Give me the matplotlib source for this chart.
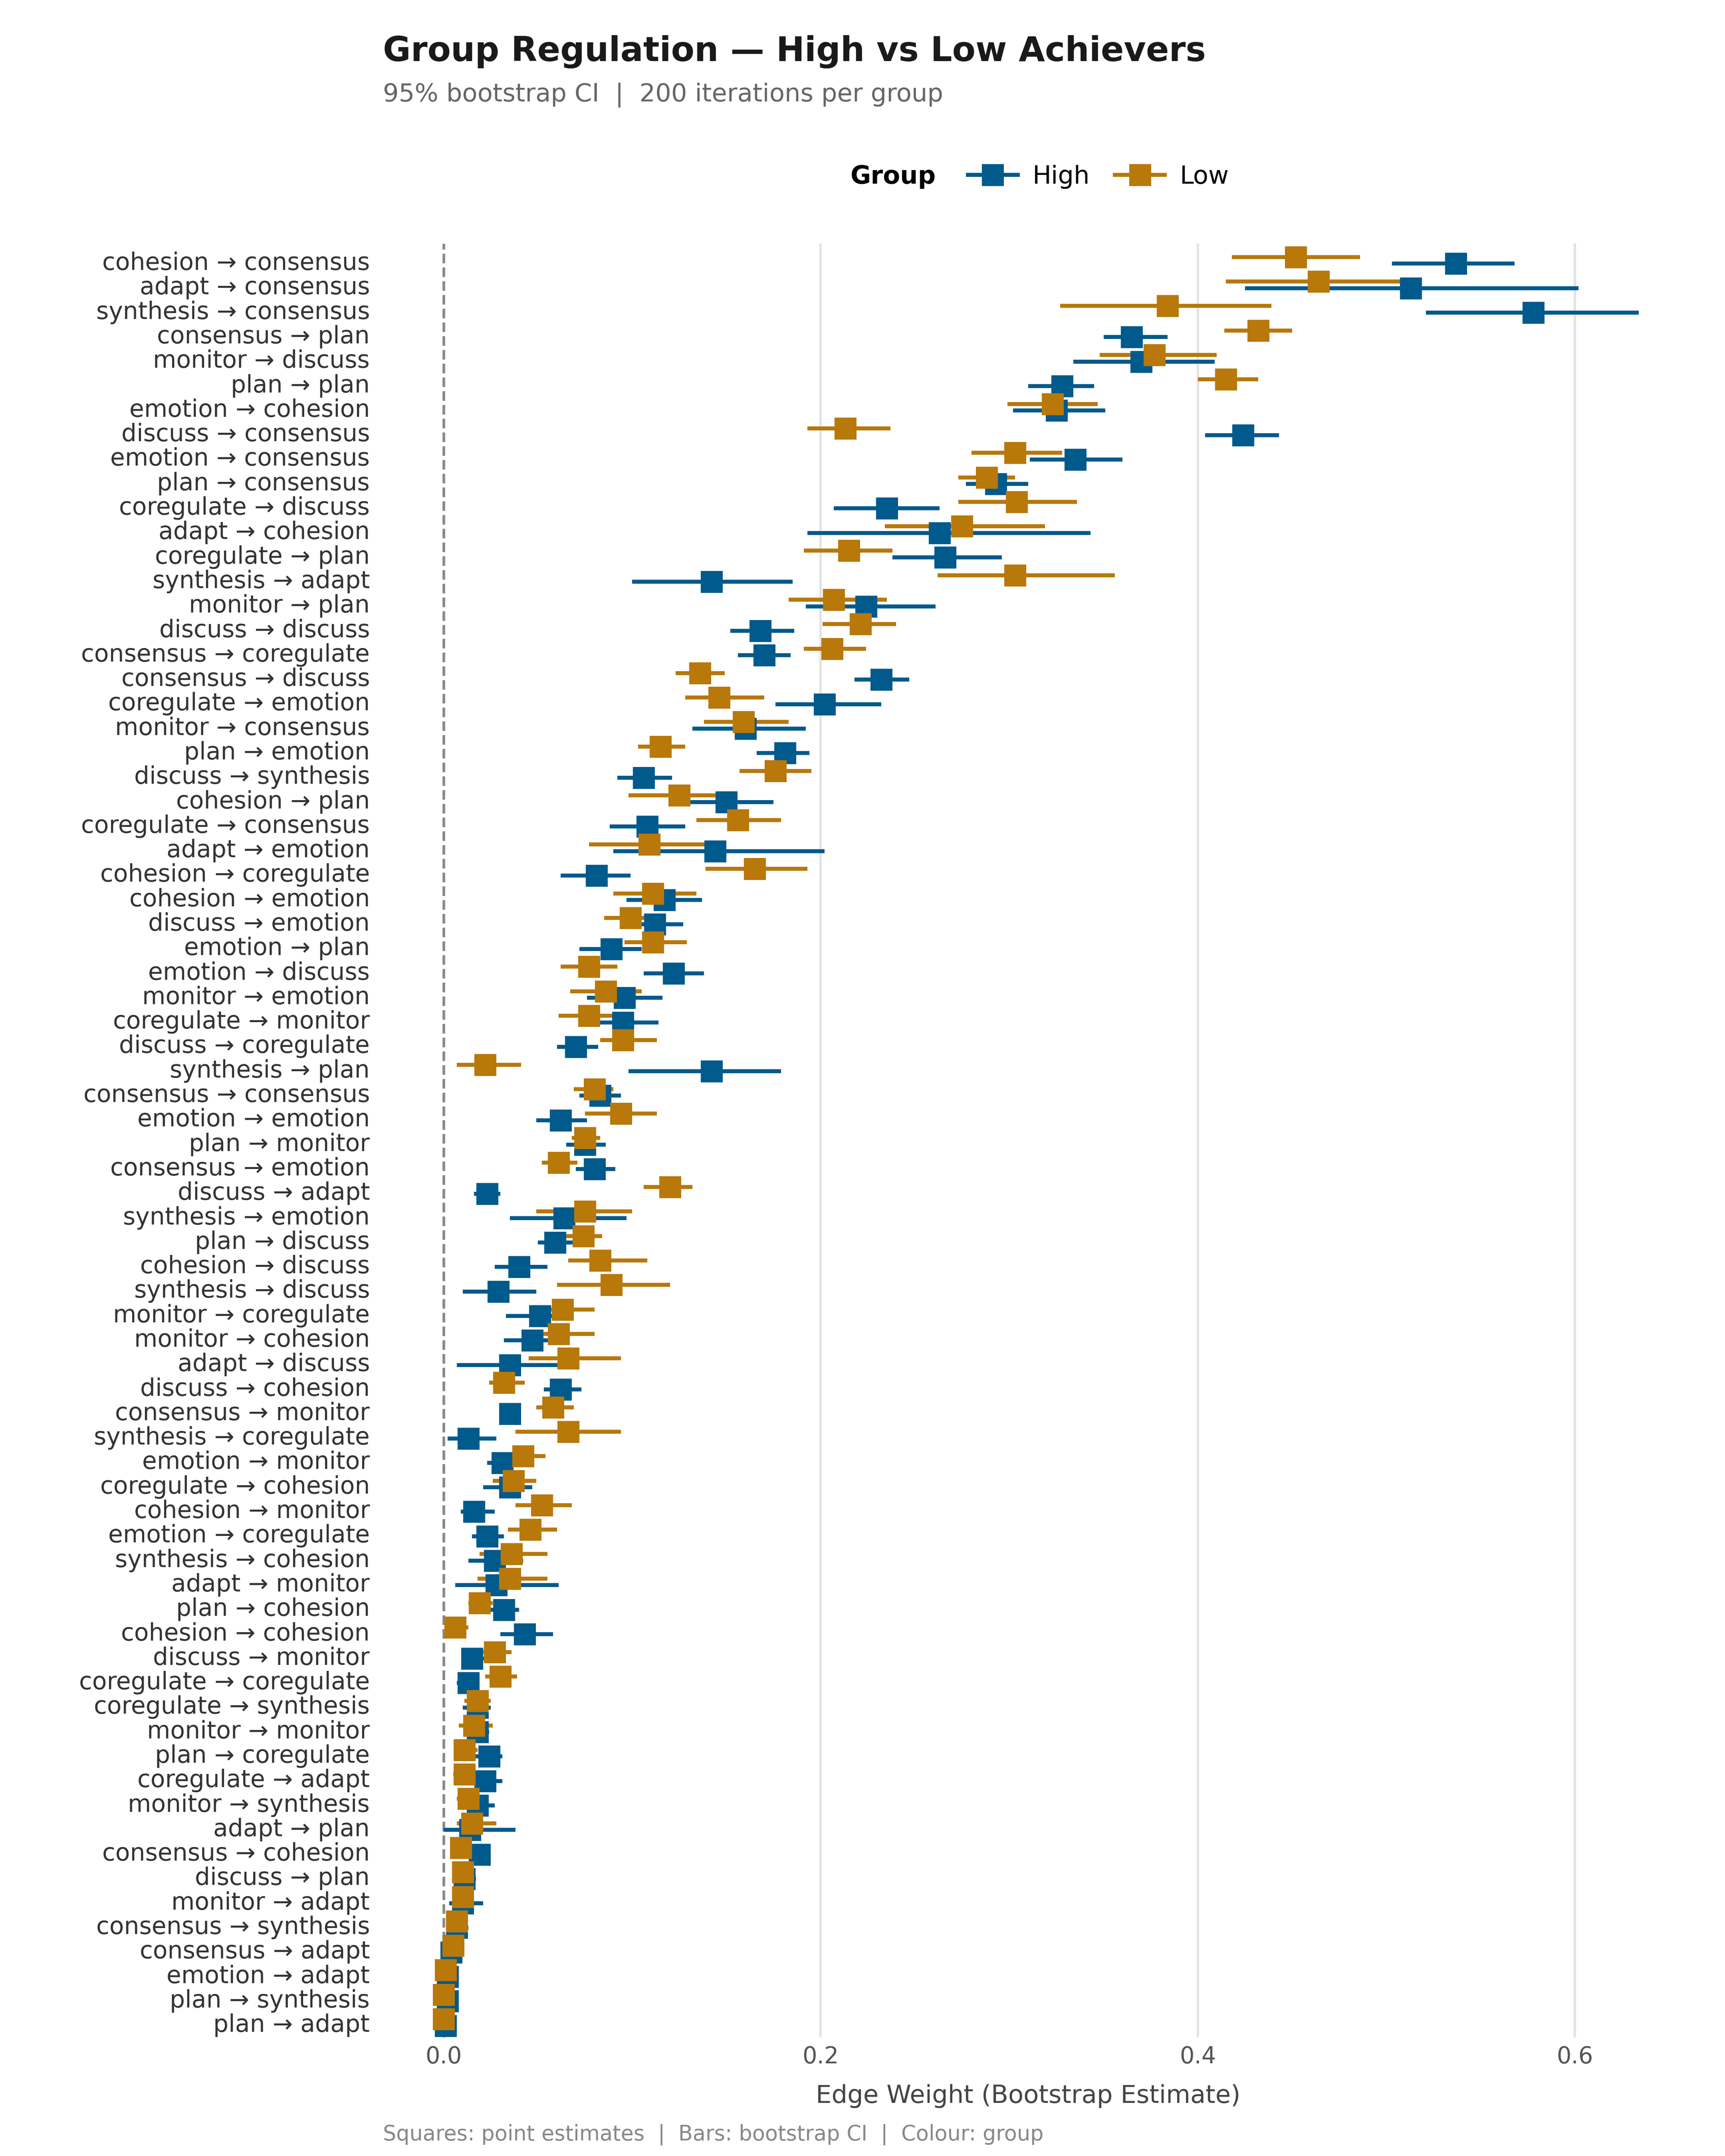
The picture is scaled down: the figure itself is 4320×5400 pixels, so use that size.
import matplotlib.pyplot as plt
from matplotlib.lines import Line2D

edges = [
    "cohesion → consensus", "adapt → consensus", "synthesis → consensus", "consensus → plan",
    "monitor → discuss", "plan → plan", "emotion → cohesion", "discuss → consensus",
    "emotion → consensus", "plan → consensus", "coregulate → discuss", "adapt → cohesion",
    "coregulate → plan", "synthesis → adapt", "monitor → plan", "discuss → discuss",
    "consensus → coregulate", "consensus → discuss", "coregulate → emotion", "monitor → consensus",
    "plan → emotion", "discuss → synthesis", "cohesion → plan", "coregulate → consensus",
    "adapt → emotion", "cohesion → coregulate", "cohesion → emotion", "discuss → emotion",
    "emotion → plan", "emotion → discuss", "monitor → emotion", "coregulate → monitor",
    "discuss → coregulate", "synthesis → plan", "consensus → consensus", "emotion → emotion",
    "plan → monitor", "consensus → emotion", "discuss → adapt", "synthesis → emotion",
    "plan → discuss", "cohesion → discuss", "synthesis → discuss", "monitor → coregulate",
    "monitor → cohesion", "adapt → discuss", "discuss → cohesion", "consensus → monitor",
    "synthesis → coregulate", "emotion → monitor", "coregulate → cohesion", "cohesion → monitor",
    "emotion → coregulate", "synthesis → cohesion", "adapt → monitor", "plan → cohesion",
    "cohesion → cohesion", "discuss → monitor", "coregulate → coregulate", "coregulate → synthesis",
    "monitor → monitor", "plan → coregulate", "coregulate → adapt", "monitor → synthesis",
    "adapt → plan", "consensus → cohesion", "discuss → plan", "monitor → adapt",
    "consensus → synthesis", "consensus → adapt", "emotion → adapt", "plan → synthesis",
    "plan → adapt",
]

high_est = [0.537, 0.513, 0.578, 0.365, 0.370, 0.328, 0.325, 0.424, 0.335, 0.293,
            0.235, 0.263, 0.266, 0.142, 0.224, 0.168, 0.170, 0.232, 0.202, 0.160,
            0.181, 0.106, 0.150, 0.108, 0.144, 0.081, 0.117, 0.112, 0.089, 0.122,
            0.096, 0.095, 0.070, 0.142, 0.083, 0.062, 0.075, 0.080, 0.023, 0.064,
            0.059, 0.040, 0.029, 0.051, 0.047, 0.035, 0.062, 0.035, 0.013, 0.031,
            0.035, 0.016, 0.023, 0.027, 0.028, 0.032, 0.043, 0.015, 0.013, 0.018,
            0.018, 0.024, 0.022, 0.018, 0.014, 0.019, 0.011, 0.010, 0.007, 0.004,
            0.002, 0.002, 0.001]
high_lo = [0.503, 0.425, 0.521, 0.350, 0.334, 0.310, 0.302, 0.404, 0.311, 0.277,
           0.207, 0.193, 0.238, 0.100, 0.192, 0.152, 0.156, 0.218, 0.176, 0.132,
           0.166, 0.092, 0.127, 0.088, 0.090, 0.062, 0.097, 0.098, 0.072, 0.106,
           0.076, 0.077, 0.060, 0.098, 0.072, 0.049, 0.065, 0.070, 0.016, 0.035,
           0.050, 0.027, 0.010, 0.033, 0.032, 0.007, 0.053, 0.030, 0.002, 0.023,
           0.021, 0.009, 0.015, 0.013, 0.006, 0.024, 0.030, 0.010, 0.007, 0.010,
           0.012, 0.015, 0.014, 0.010, 0.000, 0.014, 0.007, 0.003, 0.002, 0.000,
           0.000, 0.000, 0.000]
high_hi = [0.568, 0.602, 0.634, 0.384, 0.409, 0.345, 0.351, 0.443, 0.360, 0.310,
           0.263, 0.343, 0.296, 0.185, 0.261, 0.186, 0.184, 0.247, 0.232, 0.192,
           0.194, 0.121, 0.175, 0.128, 0.202, 0.099, 0.137, 0.127, 0.105, 0.138,
           0.116, 0.114, 0.082, 0.179, 0.094, 0.076, 0.086, 0.091, 0.030, 0.097,
           0.069, 0.055, 0.049, 0.069, 0.063, 0.067, 0.073, 0.041, 0.028, 0.040,
           0.047, 0.027, 0.032, 0.042, 0.061, 0.040, 0.058, 0.022, 0.019, 0.025,
           0.024, 0.031, 0.031, 0.027, 0.038, 0.025, 0.017, 0.021, 0.013, 0.009,
           0.007, 0.007, 0.003]

low_est = [0.452, 0.464, 0.384, 0.432, 0.377, 0.415, 0.323, 0.213, 0.303, 0.288,
           0.304, 0.275, 0.215, 0.303, 0.207, 0.221, 0.206, 0.136, 0.146, 0.159,
           0.115, 0.176, 0.125, 0.156, 0.109, 0.165, 0.111, 0.099, 0.111, 0.077,
           0.086, 0.077, 0.095, 0.022, 0.080, 0.094, 0.075, 0.061, 0.120, 0.075,
           0.074, 0.083, 0.089, 0.063, 0.061, 0.066, 0.032, 0.058, 0.066, 0.042,
           0.037, 0.052, 0.046, 0.036, 0.035, 0.019, 0.006, 0.027, 0.030, 0.018,
           0.016, 0.011, 0.011, 0.013, 0.015, 0.009, 0.010, 0.010, 0.007, 0.005,
           0.001, 0.000, 0.000]
low_lo = [0.418, 0.415, 0.327, 0.414, 0.348, 0.400, 0.299, 0.193, 0.280, 0.273,
          0.273, 0.234, 0.191, 0.262, 0.183, 0.201, 0.191, 0.123, 0.128, 0.138,
          0.103, 0.157, 0.098, 0.134, 0.077, 0.139, 0.090, 0.085, 0.096, 0.062,
          0.067, 0.061, 0.083, 0.007, 0.069, 0.075, 0.068, 0.052, 0.106, 0.049,
          0.063, 0.066, 0.060, 0.050, 0.046, 0.045, 0.024, 0.049, 0.038, 0.032,
          0.026, 0.038, 0.034, 0.019, 0.018, 0.013, 0.001, 0.019, 0.022, 0.011,
          0.008, 0.006, 0.005, 0.007, 0.007, 0.004, 0.005, 0.005, 0.003, 0.001,
          0.000, 0.000, 0.000]
low_hi = [0.486, 0.511, 0.439, 0.450, 0.410, 0.432, 0.347, 0.237, 0.328, 0.303,
          0.336, 0.319, 0.238, 0.356, 0.235, 0.240, 0.224, 0.149, 0.170, 0.183,
          0.128, 0.195, 0.154, 0.179, 0.139, 0.193, 0.134, 0.114, 0.129, 0.092,
          0.105, 0.094, 0.113, 0.041, 0.090, 0.113, 0.083, 0.071, 0.132, 0.100,
          0.084, 0.108, 0.120, 0.080, 0.080, 0.094, 0.043, 0.069, 0.094, 0.054,
          0.049, 0.068, 0.060, 0.055, 0.055, 0.026, 0.013, 0.036, 0.039, 0.025,
          0.026, 0.018, 0.017, 0.019, 0.028, 0.014, 0.014, 0.016, 0.011, 0.010,
          0.004, 0.002, 0.001]

groups = [
    ("High", high_est, high_lo, high_hi, "#005a8c", 0.12),
    ("Low", low_est, low_lo, low_hi, "#b8780a", -0.15),
]

fig = plt.figure(figsize=(12, 15), dpi=360)
ax = fig.add_axes([0.219, 0.055, 0.754, 0.832])

n = len(edges)
ypos = list(range(n))
for name, est, lo, hi, color, dodge in groups:
    y = [p + dodge for p in ypos]
    ax.hlines(y, lo, hi, color=color, lw=2.0, zorder=3)
    ax.plot(est, y, "s", color=color, markersize=10, zorder=4)

ax.axvline(0, color="#888888", ls="--", lw=1.3, zorder=1)
ax.set_xlim(-0.035, 0.655)
ax.set_ylim(n - 0.4, -0.7)
ax.set_yticks(ypos)
ax.set_yticklabels(edges, fontsize=12, color="#333333")
ax.set_xticks([0.0, 0.2, 0.4, 0.6])
ax.set_xticklabels(["0.0", "0.2", "0.4", "0.6"], fontsize=11.5, color="#555555")
for x in [0.2, 0.4, 0.6]:
    ax.axvline(x, color="#e3e3e3", lw=1.2, zorder=0)
ax.tick_params(length=0, pad=4)
for s in ax.spines.values():
    s.set_visible(False)
ax.set_xlabel("Edge Weight (Bootstrap Estimate)", fontsize=12.5, color="#444444", labelpad=8)

fig.text(0.222, 0.976, "Group Regulation — High vs Low Achievers",
         fontsize=17, fontweight="bold", color="#1a1a1a", va="center")
fig.text(0.222, 0.956, "95% bootstrap CI  |  200 iterations per group",
         fontsize=12.5, color="#666666", va="center")
fig.text(0.222, 0.005, "Squares: point estimates  |  Bars: bootstrap CI  |  Colour: group",
         fontsize=10.5, color="#888888", va="bottom")

handles = [Line2D([0], [0], color=c, lw=2, marker="s", markersize=10) for _, _, _, _, c, _ in groups]
fig.text(0.493, 0.918, "Group", fontsize=12.5, fontweight="bold", ha="left", va="center")
fig.legend(handles, [g[0] for g in groups], loc="center left", bbox_to_anchor=(0.548, 0.918),
           ncol=2, frameon=False, fontsize=12.5, handlelength=2.0, columnspacing=1.0,
           handletextpad=0.6)

fig.savefig("out.png", dpi=360, facecolor="white")
